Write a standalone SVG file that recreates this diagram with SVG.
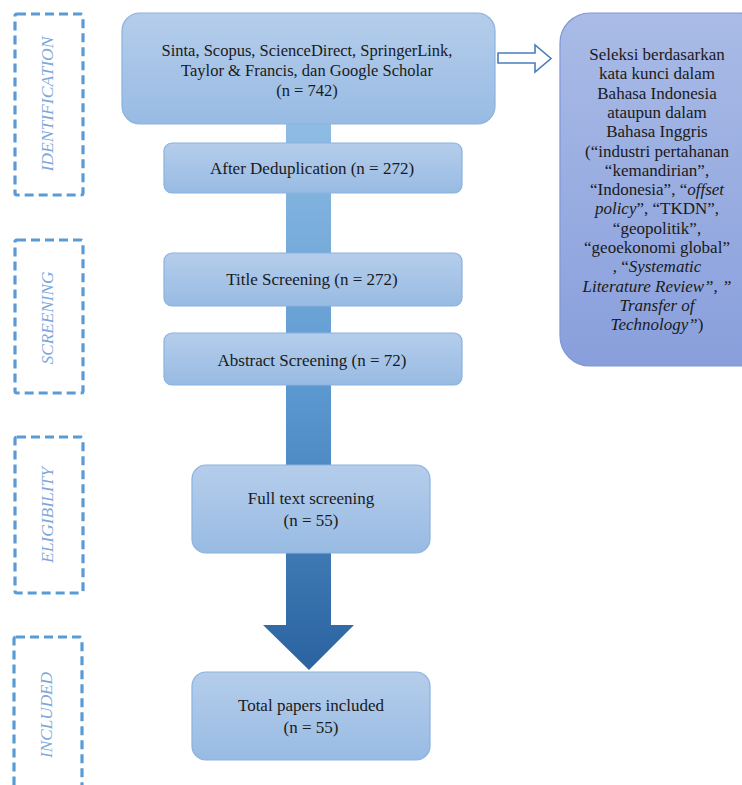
<svg xmlns="http://www.w3.org/2000/svg" width="742" height="785" viewBox="0 0 742 785">
<defs>
<linearGradient id="boxg" x1="0" y1="0" x2="0" y2="1">
<stop offset="0" stop-color="#b5cdeb"/>
<stop offset="1" stop-color="#98bbe3"/>
</linearGradient>
<linearGradient id="rightg" x1="0" y1="0" x2="0" y2="1">
<stop offset="0" stop-color="#a9bbe6"/>
<stop offset="1" stop-color="#899fdc"/>
</linearGradient>
<linearGradient id="shaftg" x1="0" y1="124" x2="0" y2="670" gradientUnits="userSpaceOnUse">
<stop offset="0" stop-color="#8fbce4"/>
<stop offset="0.5" stop-color="#5a97cf"/>
<stop offset="1" stop-color="#2a63a0"/>
</linearGradient>
<style>
.box{fill:url(#boxg);stroke:#8ab2de;stroke-width:1.2}
.t{font-family:"Liberation Serif","Times New Roman",serif;font-size:17px;fill:#1a1a1a;text-anchor:middle}
.stage{fill:none;stroke:#5b9bd5;stroke-width:3.2;stroke-dasharray:9 5}
.st{font-family:"Liberation Serif","Times New Roman",serif;font-size:16px;font-style:italic;fill:#7ea8d9;text-anchor:middle}
.i{font-style:italic}
</style>
</defs>

<g id="connectors">
<path d="M286,124 L331,124 L331,625 L354,625 L309,670 L263,625 L286,625 Z" fill="url(#shaftg)"/>
<path d="M498,53 L535,53 L535,45 L551,58.5 L535,72 L535,63 L498,63 Z" fill="#ffffff" stroke="#4a7ebb" stroke-width="1.6" stroke-linejoin="miter"/>
</g>

<g id="stage-identification">
<rect class="stage" x="15" y="14" width="68" height="181" rx="2"/>
<text class="st" transform="translate(53,104) rotate(-90)" textLength="135" lengthAdjust="spacingAndGlyphs">IDENTIFICATION</text>
</g>
<g id="stage-screening">
<rect class="stage" x="15" y="240" width="68" height="153" rx="2"/>
<text class="st" transform="translate(53,318) rotate(-90)" textLength="93" lengthAdjust="spacingAndGlyphs">SCREENING</text>
</g>
<g id="stage-eligibility">
<rect class="stage" x="15" y="437" width="68" height="156" rx="2"/>
<text class="st" transform="translate(53,515) rotate(-90)" textLength="96" lengthAdjust="spacingAndGlyphs">ELIGIBILITY</text>
</g>
<g id="stage-included">
<rect class="stage" x="14" y="637" width="68" height="170" rx="2"/>
<text class="st" transform="translate(52,715) rotate(-90)" textLength="86" lengthAdjust="spacingAndGlyphs">INCLUDED</text>
</g>

<g id="node-sources">
<rect class="box" x="122" y="13" width="373" height="111" rx="18"/>
<text class="t" x="307" y="56" style="font-size:16.5px">Sinta, Scopus, ScienceDirect, SpringerLink,</text>
<text class="t" x="307" y="76" style="font-size:16.5px">Taylor &amp; Francis, dan Google Scholar</text>
<text class="t" x="307" y="96" style="font-size:16.5px">(n = 742)</text>
</g>

<g id="node-dedup">
<rect class="box" x="164" y="143" width="298" height="50" rx="8"/>
<text class="t" x="312" y="174">After Deduplication (n = 272)</text>
</g>

<g id="node-title">
<rect class="box" x="164" y="253" width="298" height="53" rx="8"/>
<text class="t" x="312" y="285">Title Screening (n = 272)</text>
</g>

<g id="node-abstract">
<rect class="box" x="164" y="333" width="298" height="52" rx="8"/>
<text class="t" x="312" y="366">Abstract Screening (n = 72)</text>
</g>

<g id="node-fulltext">
<rect class="box" x="192" y="465" width="238" height="88" rx="14"/>
<text class="t" x="311" y="504">Full text screening</text>
<text class="t" x="311" y="526">(n = 55)</text>
</g>

<g id="node-included">
<rect class="box" x="192" y="672" width="238" height="88" rx="14"/>
<text class="t" x="311" y="711">Total papers included</text>
<text class="t" x="311" y="733">(n = 55)</text>
</g>

<g id="node-keywords">
<rect x="560" y="13" width="210" height="353" rx="30" fill="url(#rightg)" stroke="#7f97d4" stroke-width="1.2"/>
<text class="t" x="657" y="60">Seleksi berdasarkan</text>
<text class="t" x="657" y="79.3">kata kunci dalam</text>
<text class="t" x="657" y="98.6">Bahasa Indonesia</text>
<text class="t" x="657" y="117.9">ataupun dalam</text>
<text class="t" x="657" y="137.2">Bahasa Inggris</text>
<text class="t" x="657" y="156.5">(“industri pertahanan</text>
<text class="t" x="657" y="175.8">“kemandirian”,</text>
<text class="t" x="657" y="195.1">“Indonesia”, “<tspan class="i">offset</tspan></text>
<text class="t" x="657" y="214.4"><tspan class="i">policy</tspan>”, “TKDN”,</text>
<text class="t" x="657" y="233.7">“geopolitik”,</text>
<text class="t" x="657" y="253">“geoekonomi global”</text>
<text class="t" x="657" y="272.3">, “<tspan class="i">Systematic</tspan></text>
<text class="t" x="657" y="291.6"><tspan class="i">Literature Review”, ”</tspan></text>
<text class="t" x="657" y="310.9"><tspan class="i">Transfer of</tspan></text>
<text class="t" x="657" y="330.2"><tspan class="i">Technology”</tspan>)</text>
</g>
</svg>
